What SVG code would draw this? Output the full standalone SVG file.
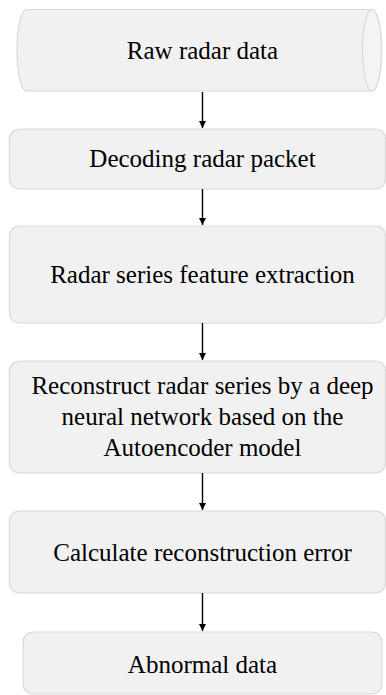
<svg xmlns="http://www.w3.org/2000/svg" width="386" height="695" viewBox="0 0 386 695">
<style>
.box{fill:#f1f1f1;stroke:#d9d9d9;stroke-width:1.2}
.cap{fill:#f4f4f4;stroke:#d9d9d9;stroke-width:1.2}
.lbl{font-family:'Liberation Serif','Times New Roman','DejaVu Serif',serif;font-size:25px;fill:#000;text-anchor:middle}
.edge{stroke:#000;stroke-width:1.4;fill:none;marker-end:url(#ah)}
</style>
<defs>
<marker id="ah" viewBox="0 0 10 10" refX="10" refY="5" markerUnits="userSpaceOnUse" markerWidth="7" markerHeight="8" orient="auto">
<path d="M0,0 L10,5 L0,10 Z" fill="#000"/>
</marker>
</defs>
<rect width="386" height="695" fill="#fff"/>
<g id="n1">
<path class="box" d="M26.5,9.5 L372,9.5 A9.5,40.75 0 0 1 372,91 L26.5,91 A9.5,40.75 0 0 1 26.5,9.5 Z"/>
<ellipse class="cap" cx="372" cy="50.25" rx="9.5" ry="40.75"/>
<text class="lbl" x="202.5" y="59">Raw radar data</text>
</g>
<g id="n2">
<rect class="box" x="9.5" y="129" width="376" height="60" rx="10"/>
<text class="lbl" x="202.5" y="167">Decoding radar packet</text>
</g>
<g id="n3">
<rect class="box" x="9.5" y="226" width="376" height="97" rx="10"/>
<text class="lbl" x="202.5" y="283">Radar series feature extraction</text>
</g>
<g id="n4">
<rect class="box" x="9.5" y="361" width="376" height="112" rx="10"/>
<text class="lbl" x="202.5" y="394">Reconstruct radar series by a deep</text>
<text class="lbl" x="202.5" y="425">neural network based on the</text>
<text class="lbl" x="202.5" y="456">Autoencoder model</text>
</g>
<g id="n5">
<rect class="box" x="9.5" y="511" width="376" height="82" rx="10"/>
<text class="lbl" x="202.5" y="561">Calculate reconstruction error</text>
</g>
<g id="n6">
<rect class="box" x="23" y="632" width="359" height="62" rx="10"/>
<text class="lbl" x="202.5" y="673">Abnormal data</text>
</g>
<g id="edges">
<line class="edge" x1="202.5" y1="92" x2="202.5" y2="128"/>
<line class="edge" x1="202.5" y1="189" x2="202.5" y2="225"/>
<line class="edge" x1="202.5" y1="323" x2="202.5" y2="360"/>
<line class="edge" x1="202.5" y1="473" x2="202.5" y2="510"/>
<line class="edge" x1="202.5" y1="593" x2="202.5" y2="631"/>
</g>
</svg>
